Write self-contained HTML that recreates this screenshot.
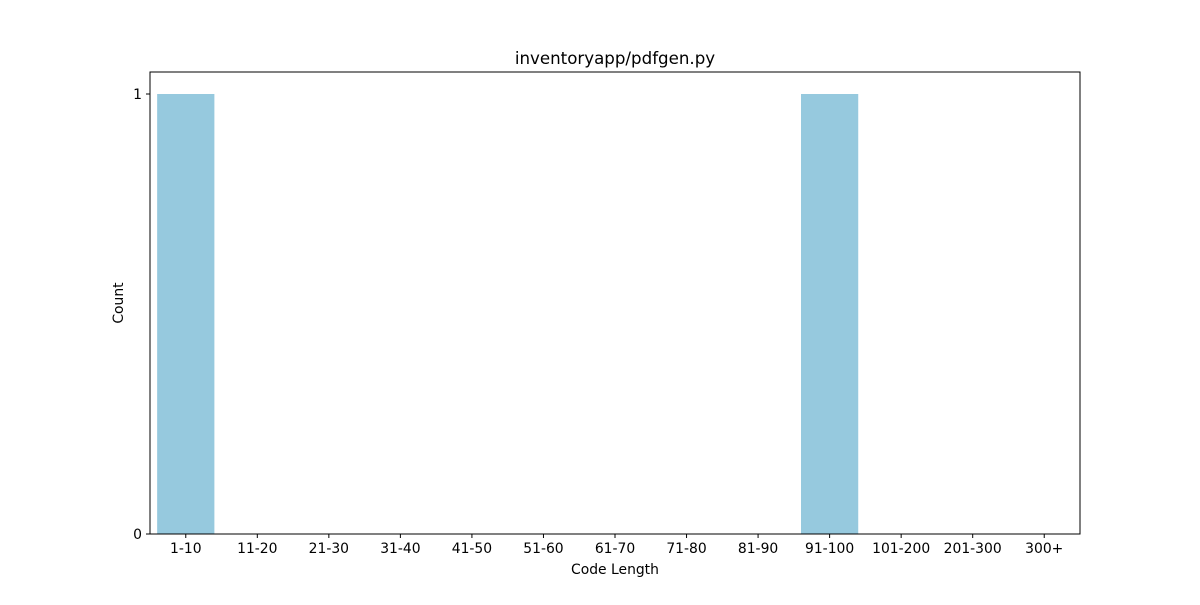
<!DOCTYPE html>
<html><head><meta charset="utf-8"><style>
body{margin:0;background:#fff;}
svg text{font-family:"DejaVu Sans","Liberation Sans",sans-serif;fill:#000;}
</style></head><body>
<svg width="1200" height="600" viewBox="0 0 1200 600">
<rect width="1200" height="600" fill="#fff"/>
<g id="bars"></g>
<g id="xt"></g>
<g id="yt"></g>
<rect x="150" y="72" width="930" height="462" fill="none" stroke="#000" stroke-width="1"/>
<text x="615" y="64" font-size="16.67" text-anchor="middle">inventoryapp/pdfgen.py</text>
<text x="615" y="574" font-size="13.9" text-anchor="middle">Code Length</text>
<text x="123" y="303" font-size="13.9" text-anchor="middle" transform="rotate(-90 123 303)">Count</text>
</svg>
<script>
const categories=["1-10","11-20","21-30","31-40","41-50","51-60","61-70","71-80","81-90","91-100","101-200","201-300","300+"];
const counts=[1,0,0,0,0,0,0,0,0,1,0,0,0];
const yTicks=[0,1];
const NS="http://www.w3.org/2000/svg";
const L=150,R=1080,T=72,B=534,yMax=1.05;
const step=(R-L)/categories.length;
const xc=i=>L+step*(i+0.5);
const ys=v=>B-(v/yMax)*(B-T);
const bars=document.getElementById('bars'),xt=document.getElementById('xt'),yt=document.getElementById('yt');
function mk(t,a){const e=document.createElementNS(NS,t);for(const k in a)e.setAttribute(k,a[k]);return e;}
categories.forEach((c,i)=>{
  const v=counts[i];
  const r=mk('rect',{x:xc(i)-step*0.4,y:ys(v),width:step*0.8,height:B-ys(v),fill:'#96c9de'});
  
  
  bars.appendChild(r);
  const tk=mk('line',{x1:xc(i),x2:xc(i),y1:B,y2:B+4,stroke:'#000'});
  
  
  xt.appendChild(tk);
  const t=mk('text',{x:xc(i),y:B+19,'font-size':13.9,'text-anchor':'middle'});
  t.textContent=c;
  
  
  xt.appendChild(t);
});
yTicks.forEach(v=>{
  const tk=mk('line',{x1:L-4,x2:L,y1:ys(v),y2:ys(v),stroke:'#000'});
  
  
  yt.appendChild(tk);
  const t=mk('text',{x:L-8,y:ys(v)+5,'font-size':13.9,'text-anchor':'end'});
  t.textContent=v;
  
  
  yt.appendChild(t);
});
</script>
</body></html>
